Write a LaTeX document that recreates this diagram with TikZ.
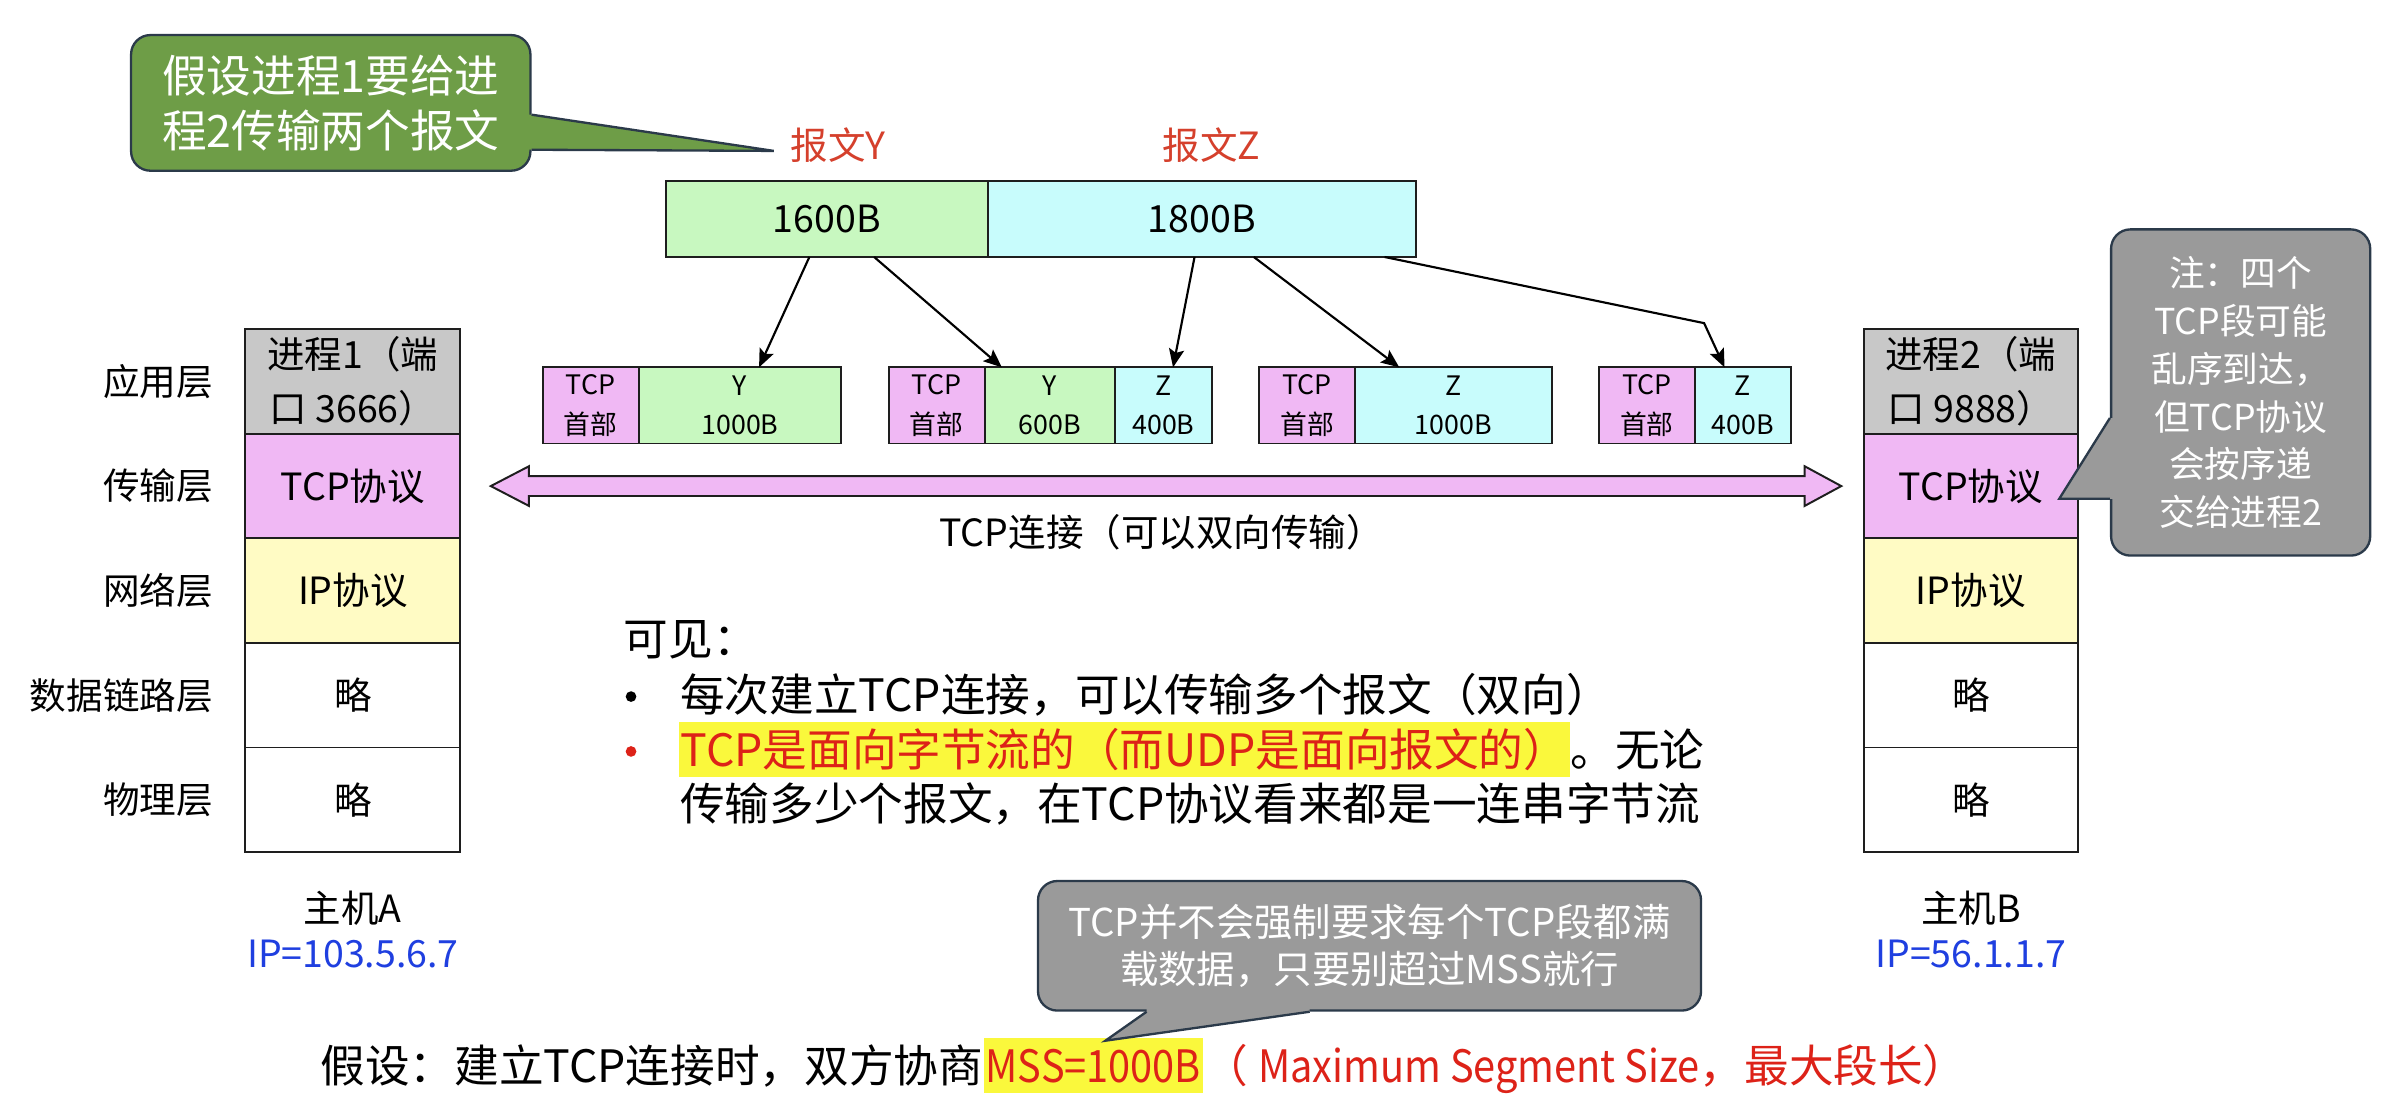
\documentclass[tikz,border=0pt]{standalone}
\usepackage{fontspec}
\setmainfont{Noto Sans CJK SC}
\newfontfamily\narrowfont[FakeStretch=0.89]{Noto Sans CJK SC}
\usetikzlibrary{calc,arrows.meta}

\definecolor{appgray}{HTML}{C8C8C8}
\definecolor{tcppink}{HTML}{F0B8F4}
\definecolor{ipyellow}{HTML}{FFFBC4}
\definecolor{ygreen}{HTML}{C8F8C0}
\definecolor{zcyan}{HTML}{C8FCFC}
\definecolor{edge}{HTML}{1E1E1E}
\definecolor{callgreen}{HTML}{6E9D47}
\definecolor{callgray}{HTML}{9A9A9A}
\definecolor{callborder}{HTML}{2B3A4A}
\definecolor{msgred}{HTML}{D5402C}
\definecolor{hlred}{HTML}{DD2218}
\definecolor{hlyellow}{HTML}{FAF83C}
\definecolor{ipblue}{HTML}{1F3FE0}

\newcommand\pxu{0.03cm}
\newcommand\fbig{\fontsize{25pt}{31pt}\selectfont}
\newcommand\fmid{\fontsize{21pt}{30pt}\selectfont}
\newcommand\flay{\fontsize{20.5pt}{26pt}\selectfont}
\newcommand\fseg{\fontsize{15pt}{22pt}\selectfont}
\newcommand\fgreen{\fontsize{25pt}{31pt}\selectfont}
\newcommand\fnoter{\fontsize{20pt}{26.8pt}\selectfont}
\newcommand\fnoteb{\fontsize{21.5pt}{26.5pt}\selectfont}

\begin{document}
\begin{tikzpicture}[x=0.03cm,y=-0.03cm,
  cell/.style 2 args={draw=edge, line width=1.1pt, inner sep=0pt, outer sep=0pt,
    anchor=north west, minimum width=#1*\pxu, minimum height=#2*\pxu, align=center},
  layer/.style={cell={141}{68.6}, font=\fmid},
  seg/.style 2 args={cell={#1}{#2}, font=\fseg, line width=1pt},
  lay/.style={anchor=east, inner sep=0pt, font=\flay},
  conn/.style={draw=black, line width=1.2pt,
    -{Stealth[length=0.36cm,width=0.3cm,inset=0.07cm]}},
  bubble/.style={draw=callborder, line width=1.3pt, rounded corners=0.38cm,
    text=white, align=center, inner sep=0pt},
  txt/.style={anchor=base west, inner sep=0pt, font=\fbig},
  hl/.style={anchor=base west, font=\fbig, text=hlred, fill=hlyellow,
    text height=29*\pxu, text depth=7*\pxu, inner ysep=0pt, inner xsep=1pt}
]
\useasboundingbox[fill=white] (0,0) rectangle (1568,730);

% ---------- host A protocol stack ----------
\node[layer, fill=appgray] (a-app) at (161,216) {进程1（端\\口 3666）};
\node[layer, fill=tcppink] (a-tcp) at (a-app.south west) {TCP协议};
\node[layer, fill=ipyellow] (a-ip) at (a-tcp.south west) {IP协议};
\node[layer, fill=white] (a-link) at (a-ip.south west) {略};
\node[layer, fill=white] (a-phy) at (a-link.south west) {略};

% ---------- host B protocol stack ----------
\node[layer, fill=appgray, minimum width=140*\pxu] (b-app) at (1223,216) {进程2（端\\口 9888）};
\node[layer, fill=tcppink, minimum width=140*\pxu] (b-tcp) at (b-app.south west) {TCP协议};
\node[layer, fill=ipyellow, minimum width=140*\pxu] (b-ip) at (b-tcp.south west) {IP协议};
\node[layer, fill=white, minimum width=140*\pxu] (b-link) at (b-ip.south west) {略};
\node[layer, fill=white, minimum width=140*\pxu] (b-phy) at (b-link.south west) {略};

% ---------- layer names ----------
\node[lay] (l-app) at ($(a-app.west)+(-21,0)$) {应用层};
\node[lay] (l-tcp) at ($(a-tcp.west)+(-21,0)$) {传输层};
\node[lay] (l-ip) at ($(a-ip.west)+(-21,0)$) {网络层};
\node[lay] (l-link) at ($(a-link.west)+(-21,0)$) {数据链路层};
\node[lay] (l-phy) at ($(a-phy.west)+(-21,0)$) {物理层};

% ---------- host names ----------
\node[font=\fmid, inner sep=0pt] (hostA) at ($(a-phy.south)+(0,37)$) {主机A};
\node[font=\fmid, inner sep=0pt, text=ipblue] (ipA) at ($(hostA)+(0,30)$) {IP=103.5.6.7};
\node[font=\fmid, inner sep=0pt] (hostB) at ($(b-phy.south)+(0,37)$) {主机B};
\node[font=\fmid, inner sep=0pt, text=ipblue] (ipB) at ($(hostB)+(0,30)$) {IP=56.1.1.7};

% ---------- the two messages ----------
\node[cell={211}{49.6}, fill=ygreen, font=\fmid] (ytop) at (437,119) {1600B};
\node[cell={281}{49.6}, fill=zcyan, font=\fmid] (ztop) at (ytop.north east) {1800B};
\node[font=\fmid, inner sep=0pt, text=msgred] (lblY) at (550,95) {报文Y};
\node[font=\fmid, inner sep=0pt, text=msgred] (lblZ) at (795,95) {报文Z};

% ---------- the four TCP segments ----------
\node[seg={63}{50}, fill=tcppink] (s1h) at (356,241) {TCP\\首部};
\node[seg={133}{50}, fill=ygreen] (s1y) at (s1h.north east) {Y\\1000B};

\node[seg={63}{50}, fill=tcppink] (s2h) at (583,241) {TCP\\首部};
\node[seg={85.6}{50}, fill=ygreen] (s2y) at (s2h.north east) {Y\\600B};
\node[seg={63.4}{50}, fill=zcyan] (s2z) at (s2y.north east) {Z\\400B};

\node[seg={63}{50}, fill=tcppink] (s3h) at (826,241) {TCP\\首部};
\node[seg={129}{50}, fill=zcyan] (s3z) at (s3h.north east) {Z\\1000B};

\node[seg={63}{50}, fill=tcppink] (s4h) at (1049,241) {TCP\\首部};
\node[seg={63}{50}, fill=zcyan] (s4z) at (s4h.north east) {Z\\400B};

% ---------- splitting the messages into segments ----------
\draw[conn] ($(ytop.south west)+(94,0)$) -- ($(s1y.north west)+(79,0)$);
\draw[conn] ($(ytop.south west)+(136.5,0)$) -- ($(s2y.north west)+(11.3,0)$);
\draw[conn] ($(ztop.south west)+(135.7,0)$) -- ($(s2z.north west)+(38,0)$);
\draw[conn] ($(ztop.south west)+(174.6,0)$) -- ($(s3z.north west)+(29,0)$);
\coordinate (bend) at (1118,212);
\draw[conn] ($(ztop.south west)+(260.4,0)$) -- (bend) -- ($(s4z.north west)+(19.4,0)$);

% ---------- TCP connection (double arrow) ----------
\coordinate (cl) at ($(a-tcp.east)+(20,0)$);
\coordinate (cr) at ($(b-tcp.west)+(-15,0)$);
\draw[edge, line width=1.1pt, fill=tcppink, line join=miter]
  (cl) -- ($(cl)+(25,-13)$) -- ($(cl)+(25,-6.5)$) -- ($(cr)+(-24,-6.5)$)
  -- ($(cr)+(-24,-13)$) -- (cr) -- ($(cr)+(-24,13)$) -- ($(cr)+(-24,6.5)$)
  -- ($(cl)+(25,6.5)$) -- ($(cl)+(25,13)$) -- cycle;
\node[font=\fmid, inner sep=0pt] (connlbl) at (762,349) {TCP连接（可以双向传输）};

% ---------- green note ----------
\node[bubble, fill=callgreen, font=\fgreen, minimum width=262*\pxu, minimum height=89*\pxu]
  (note0) at (217,67.5) {假设进程1要给进\\程2传输两个报文};
\coordinate (tip0) at ($(lblY.west)+(-11,4)$);
\fill[callgreen] ($(note0.north east)+(-4,53)$) -- ($(note0.north east)+(0,53)$) -- (tip0)
  -- ($(note0.north east)+(0,76)$) -- ($(note0.north east)+(-4,76)$) -- cycle;
\draw[callborder, line width=1.3pt, line join=miter]
  ($(note0.north east)+(0,53)$) -- (tip0) -- ($(note0.north east)+(0,76)$);

% ---------- gray note on the right ----------
\node[bubble, fill=callgray, font=\fnoter, minimum width=170*\pxu, minimum height=214*\pxu]
  (note1) at (1470,257.5) {注：四个\\TCP段可能\\乱序到达，\\但TCP协议\\会按序递\\交给进程2};
\coordinate (tip1) at ($(b-tcp.south east)+(-12,-26)$);
\fill[callgray] ($(note1.north west)+(4,124.5)$) -- ($(note1.north west)+(0,124.5)$) -- (tip1)
  -- ($(note1.north west)+(0,177.5)$) -- ($(note1.north west)+(4,177.5)$) -- cycle;
\draw[callborder, line width=1.3pt, line join=miter]
  ($(note1.north west)+(0,124.5)$) -- (tip1) -- ($(note1.north west)+(0,177.5)$);

% ---------- conclusions ----------
\node[txt] (seen) at (409,430) {可见：};
\node[circle, fill=black, inner sep=0pt, minimum size=7*\pxu] (dot1) at (414,457) {};
\node[txt] (b1) at (446,467) {每次建立TCP连接，可以传输多个报文（双向）};
\node[circle, fill=hlred, inner sep=0pt, minimum size=7*\pxu] (dot2) at (414,493) {};
\node[hl] (b2a) at (445,503) {TCP是面向字节流的（而UDP是面向报文的）};
\node[txt] (b2b) at (b2a.base east) {。无论};
\node[txt] (b3) at (446,538) {传输多少个报文，在TCP协议看来都是一连串字节流};

% ---------- assumption line ----------
\node[txt] (assume) at (210,710) {假设：建立TCP连接时，双方协商};
\node[hl] (mss) at (assume.base east) {\narrowfont MSS=1000B};
\node[txt, text=hlred] (mssnote) at (mss.base east) {（ {\narrowfont Maximum Segment Size}，最大段长）};

% ---------- gray note at the bottom ----------
\node[bubble, fill=callgray, font=\fnoteb, minimum width=435*\pxu, minimum height=85*\pxu]
  (note2) at (898.5,620.5) {TCP并不会强制要求每个TCP段都满\\载数据，只要别超过MSS就行};
\coordinate (tip2) at ($(mss.north west)+(80,2)$);
\fill[callgray] ($(note2.south west)+(72,-4)$) -- ($(note2.south west)+(72,0)$) -- (tip2)
  -- ($(note2.south west)+(179,0)$) -- ($(note2.south west)+(179,-4)$) -- cycle;
\draw[callborder, line width=1.3pt, line join=miter]
  ($(note2.south west)+(72,0)$) -- (tip2) -- ($(note2.south west)+(179,0)$);
\end{tikzpicture}
\end{document}
